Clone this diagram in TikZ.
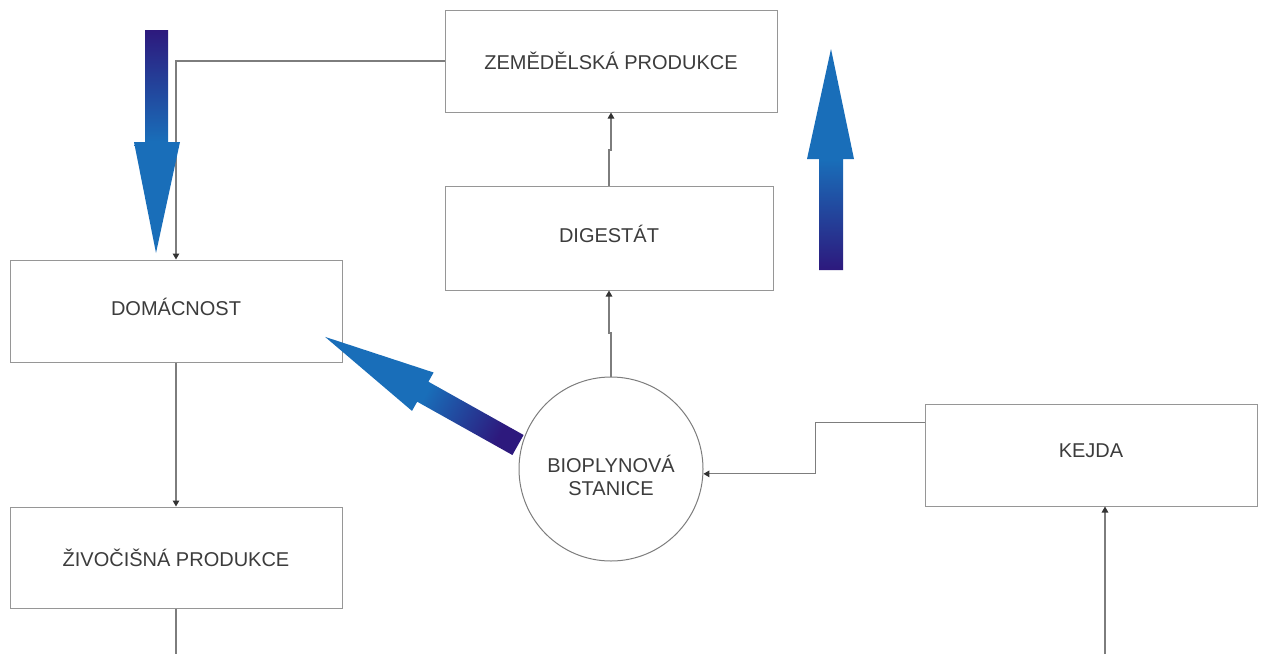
\documentclass[tikz,border=0pt]{standalone}
\usepackage{fontspec}
\setmainfont{Liberation Sans}
\usetikzlibrary{arrows.meta,calc}
\definecolor{adark}{RGB}{45,25,125}
\definecolor{ablue}{RGB}{25,110,185}
\definecolor{linec}{RGB}{125,125,125}
\definecolor{boxc}{RGB}{150,150,150}
\definecolor{txt}{RGB}{60,60,60}
\begin{document}
\begin{tikzpicture}[x=1pt,y=-1pt,
  box/.style={draw=boxc, line width=1pt, minimum width=332pt, minimum height=102pt,
    inner sep=0pt, font=\fontsize{20}{24}\selectfont, text=txt, align=center},
  raised/.style={text depth=9pt},
  hub/.style={circle, draw=linec, line width=1pt, minimum size=184pt, inner sep=0pt,
    font=\fontsize{20}{23}\selectfont, text=txt, align=center, text height=54pt},
  conn/.style={draw=linec, line width=1.2pt,
    -{Triangle[length=6pt,width=6.5pt,color=black!80,fill=black!80]}},
  plainline/.style={draw=linec, line width=1.2pt},
  fatdown/.style={top color=adark, bottom color=ablue, middle color=ablue, draw=none},
  fatup/.style={top color=ablue, bottom color=adark, middle color=ablue, draw=none},
  fatdiag/.style={top color=ablue, bottom color=adark, middle color=ablue, shading angle=60.7, draw=none}
]
\fill[white] (0,0) rectangle (1264,654);
\useasboundingbox (0,0) rectangle (1264,654);

% nodes
\node[box] (zem) at (611,61) {ZEMĚDĚLSKÁ PRODUKCE};
\node[box, raised, minimum width=328pt, minimum height=104pt] (dig) at (609,238) {DIGESTÁT};
\node[box, raised] (dom) at (176,311) {DOMÁCNOST};
\node[box, minimum height=101pt] (ziv) at (176,557.5) {ŽIVOČIŠNÁ PRODUKCE};
\node[box, raised] (kej) at (1091,455) {KEJDA};
\node[hub] (bio) at (611,469) {BIOPLYNOVÁ\\STANICE};

% free ends
\coordinate (kejin) at ($(kej.north west)+(0,19)$);
\coordinate (zivend) at (176,654);
\coordinate (kejsrc) at (1105,654);
\coordinate (jog1) at (0,150);
\coordinate (jog2) at (0,333);

% connectors
\draw[conn] (zem.west) -| (dom.north);
\draw[conn] (dig.north) |- (zem.south |- jog1) -- (zem.south);
\draw[conn] (bio.north) |- (dig.south |- jog2) -- (dig.south);
\draw[conn] (kejin) -| ($(bio.-3)+(112,0)$) -- (bio.-3);
\draw[conn] (dom.south) -- (ziv.north);
\draw[plainline] (ziv.south) -- (zivend);
\draw[conn] (kejsrc) -- (kej.south -| kejsrc);

% big gradient arrows
\shade[fatdown] (145,30) -- (168,30) -- (168,142) -- (180,142) -- (156,253)
  -- (134,142) -- (145,142) -- cycle;
\shade[fatup] (819,270) -- (843,270) -- (843,159) -- (854,159) -- (831,49)
  -- (807,159) -- (819,159) -- cycle;
\shade[fatdiag] (523.6,435.0) -- (428.4,381.7) -- (433.6,372.5) -- (325.1,336.9)
  -- (412.0,410.9) -- (417.2,401.7) -- (512.4,455.0) -- cycle;
\end{tikzpicture}
\end{document}
